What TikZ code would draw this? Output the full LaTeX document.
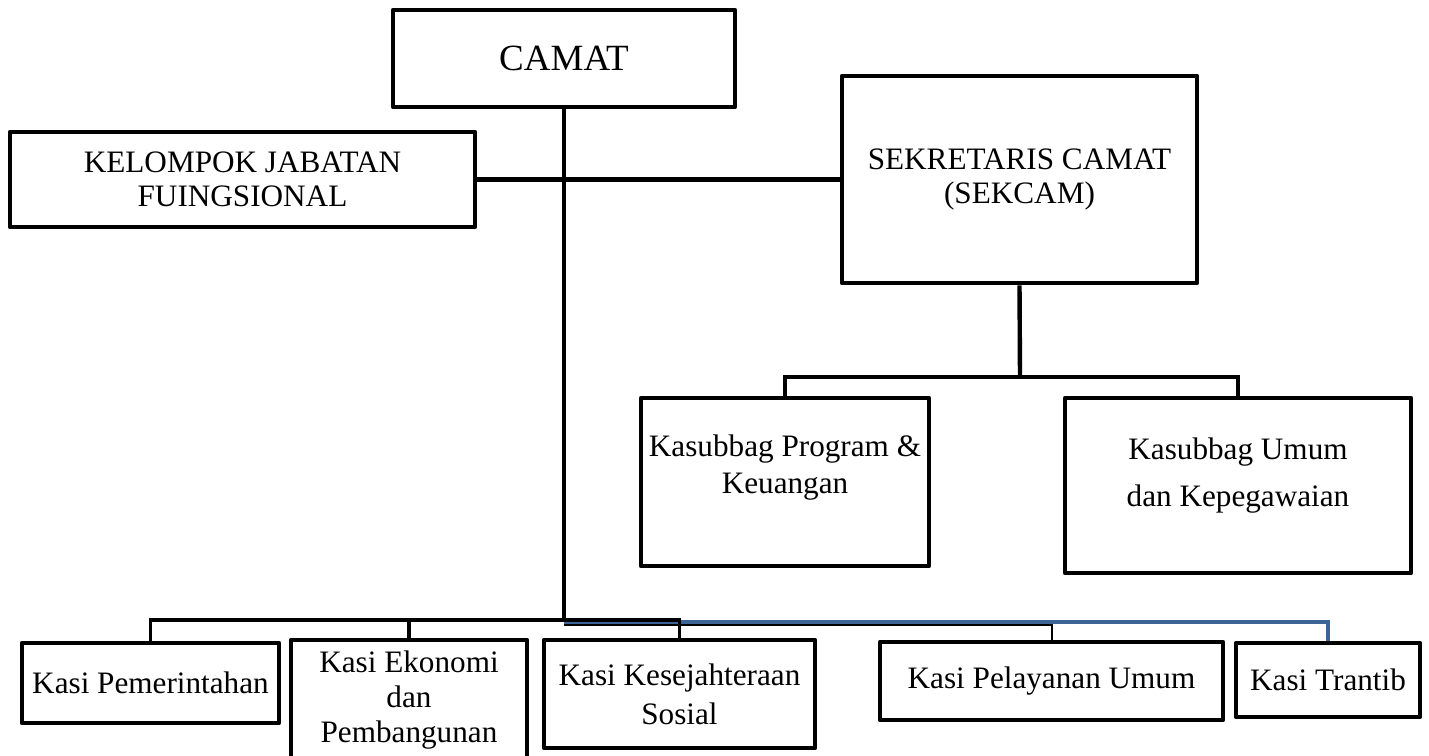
\documentclass[tikz,border=0pt]{standalone}
\usepackage{fontspec}
\setmainfont{Liberation Serif}
\definecolor{garisbiru}{RGB}{60,100,150}
\tikzset{
  kotak/.style={draw, line width=2.3pt, line join=round, inner sep=0pt, align=center,
    font=\fontsize{15.6}{17}\selectfont},
  teks/.style={inner sep=0pt, align=center, font=\fontsize{15.6}{17}\selectfont},
  garis/.style={line width=2.2pt},
  garis bus/.style={line width=1.7pt},
  garis tipis/.style={line width=1pt},
  garis biru/.style={line width=1.9pt, draw=garisbiru}
}

\begin{document}
\begin{tikzpicture}[x=0.5pt,y=-0.5pt]
  \useasboundingbox (0,0) rectangle (1429,755);
  % upper boxes
  \node[kotak, minimum width=171pt, minimum height=48.5pt, font=\fontsize{18.5}{20}\selectfont] at (564,58.5)(camat){CAMAT};
  \node[kotak, minimum width=232.5pt, minimum height=47.5pt] at (242.5,179.5)(kelompok){KELOMPOK JABATAN\\FUINGSIONAL};
  \node[kotak, minimum width=177.5pt, minimum height=103.5pt] at (1019.5,179.5)(sekcam){SEKRETARIS CAMAT\\(SEKCAM)};
  % kasubbag boxes
  \node[kotak, minimum width=144pt, minimum height=84pt] at (785,482)(program){};
  \node[teks] at (785,468)(programteks){Kasubbag Program \&\\[1.5pt]Keuangan};
  \node[kotak, minimum width=173pt, minimum height=87.5pt] at (1238,485.5)(umum){};
  \node[teks] at (1238,476)(umumteks){Kasubbag Umum\\[6.5pt]dan Kepegawaian};
  % kasi boxes
  \node[kotak, minimum width=128.5pt, minimum height=40pt] at (150.5,683)(pemerintahan){Kasi Pemerintahan};
  \node[kotak, minimum width=118pt, minimum height=70pt] at (409,710)(ekonomi){};
  \node[teks] at (409,700)(ekonomiteks){Kasi Ekonomi\\[0.6pt]dan\\[0.6pt]Pembangunan};
  \node[kotak, minimum width=135.5pt, minimum height=54pt] at (679.5,694)(kesejahteraan){Kasi Kesejahteraan\\[2.5pt]Sosial};
  \node[kotak, minimum width=171.5pt, minimum height=39pt] at (1051.5,681)(pelayanan){Kasi Pelayanan Umum};
  \node[kotak, minimum width=92pt, minimum height=37pt] at (1328,680)(trantib){Kasi Trantib};
  % connectors
  \coordinate (kasibus) at (564,620);
  \coordinate (sekbus) at (1020,377);
  \draw[garis] (camat.south) -- (kasibus);
  \draw[garis] (kelompok.east) -- (sekcam.west);
  \draw[garis] (sekcam.south) -- (sekbus);
  \draw[garis bus] (program.north) |- (sekbus) -| (umum.north);
  \draw[garis tipis] ([yshift=-2.5pt]kasibus) -| (pelayanan.north);
  \draw[garis biru] ([yshift=-1pt]kasibus) -| (trantib.north);
  \draw[garis bus] (pemerintahan.north) |- (kasibus) -| (kesejahteraan.north);
  \draw[garis bus] (ekonomi.north) -- (ekonomi.north |- kasibus);
\end{tikzpicture}
\end{document}
